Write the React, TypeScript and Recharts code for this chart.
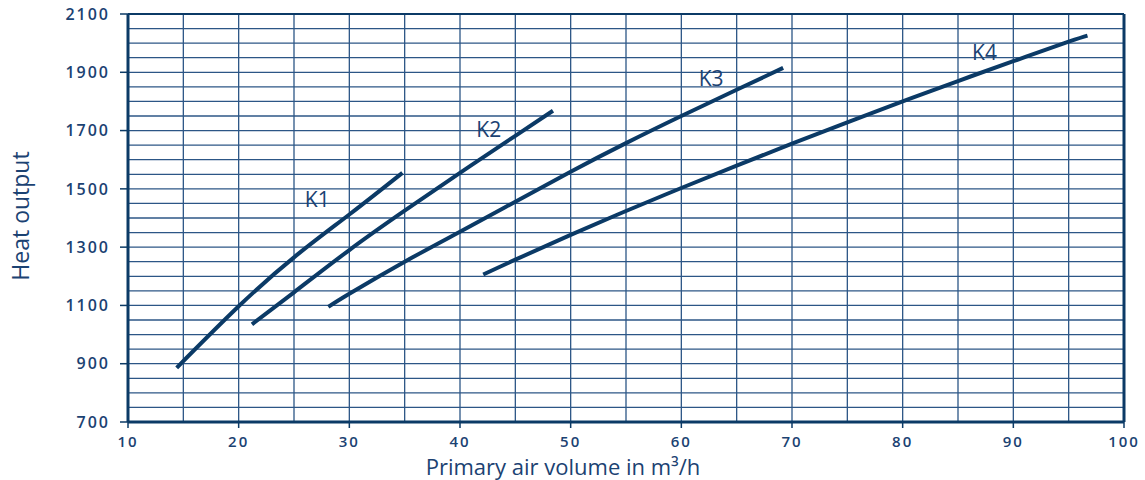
import { LineChart, Line, XAxis, YAxis, CartesianGrid, ReferenceLine, ReferenceDot } from "recharts";

// points, airflow (m³/h) -> heat output
const k1X = [14.4, 20, 25, 30, 34.8];
const k1Y = [886, 1097, 1265, 1412, 1555];
const k2X = [21.2, 25, 30, 35, 40, 45, 48.4];
const k2Y = [1035, 1145, 1290, 1425, 1555, 1682, 1768];
const k3X = [28.1, 30, 35, 40, 45, 50, 55, 60, 65, 69.2];
const k3Y = [1095, 1140, 1250, 1353, 1456, 1559, 1657, 1750, 1840, 1915];
const k4X = [42.1, 45, 50, 55, 60, 65, 70, 75, 80, 85, 90, 95, 96.7];
const k4Y = [1206, 1257, 1342, 1424, 1503, 1580, 1655, 1728, 1800, 1870, 1938, 2005, 2026];

const curveNames = ["K1", "K2", "K3", "K4"];
const labelX = [27.1, 42.6, 62.7, 87.4];
const labelY = [1462, 1703, 1878, 1968];

const xTicks = [10, 20, 30, 40, 50, 60, 70, 80, 90, 100];
const yTicks = [700, 900, 1100, 1300, 1500, 1700, 1900, 2100];
const xGrid = [15, 20, 25, 30, 35, 40, 45, 50, 55, 60, 65, 70, 75, 80, 85, 90, 95];

const navy = "#0b3a66";
const gridColor = "#2c5686";
const textColor = "#1b4272";
const font = "'Open Sans', 'Noto Sans', sans-serif";

const toPoints = (xs: number[], ys: number[]) => xs.map((x, i) => ({ x, y: ys[i] }));
const series = [toPoints(k1X, k1Y), toPoints(k2X, k2Y), toPoints(k3X, k3Y), toPoints(k4X, k4Y)];

const yGrid: number[] = [];
for (let v = 750; v < 2100; v += 50) yGrid.push(v);

const XTitle = () => (
  <text x={563} y={475} textAnchor="middle" fontSize={22} fill={textColor} fontFamily={font}>
    Primary air volume in m³/h
  </text>
);

const YTitle = () => (
  <text
    x={20}
    y={216}
    transform="rotate(-90 20 216)"
    textAnchor="middle"
    dominantBaseline="central"
    fontSize={23}
    fill={textColor}
    fontFamily={font}
  >
    Heat output
  </text>
);

export default function App() {
  return (
    <div style={{ position: "fixed", left: 0, top: 0, background: "#fff" }}>
      <LineChart
        width={1145}
        height={480}
        margin={{ top: 14, right: 21, left: 0, bottom: 0 }}
      >
        <CartesianGrid
          stroke={gridColor}
          strokeWidth={1.3}
          horizontal={false}
          verticalValues={xGrid}
        />
        {yGrid.map((v) => (
          <ReferenceLine key={v} y={v} stroke={gridColor} strokeWidth={1.3} />
        ))}
        <XAxis
          dataKey="x"
          type="number"
          domain={[10, 100]}
          ticks={xTicks}
          allowDuplicatedCategory={false}
          height={58}
          tickSize={6}
          tickMargin={8}
          axisLine={{ stroke: navy, strokeWidth: 3 }}
          tickLine={{ stroke: navy, strokeWidth: 1.5 }}
          tick={{ fontSize: 15, fill: textColor, fontFamily: font, fontWeight: 600, letterSpacing: 2 }}
          label={<XTitle />}
        />
        <YAxis
          type="number"
          domain={[700, 2100]}
          ticks={yTicks}
          width={128}
          tickSize={8}
          tickMargin={10}
          axisLine={{ stroke: navy, strokeWidth: 3 }}
          tickLine={{ stroke: navy, strokeWidth: 1.5 }}
          tick={{ fontSize: 16, fill: textColor, fontFamily: font, fontWeight: 600, letterSpacing: 2 }}
          label={<YTitle />}
        />
        <ReferenceLine x={100} stroke={navy} strokeWidth={3} />
        <ReferenceLine y={2100} stroke={navy} strokeWidth={2} />
        {series.map((pts, i) => (
          <Line
            key={curveNames[i]}
            data={pts}
            dataKey="y"
            type="natural"
            stroke={navy}
            strokeWidth={4}
            dot={false}
            activeDot={false}
            isAnimationActive={false}
          />
        ))}
        {curveNames.map((name, i) => (
          <ReferenceDot
            key={"lbl" + name}
            x={labelX[i]}
            y={labelY[i]}
            r={0}
            fill="none"
            stroke="none"
            label={{
              value: name,
              position: "center",
              style: { fontSize: 21, fill: textColor, fontFamily: font },
            }}
          />
        ))}
      </LineChart>
    </div>
  );
}
